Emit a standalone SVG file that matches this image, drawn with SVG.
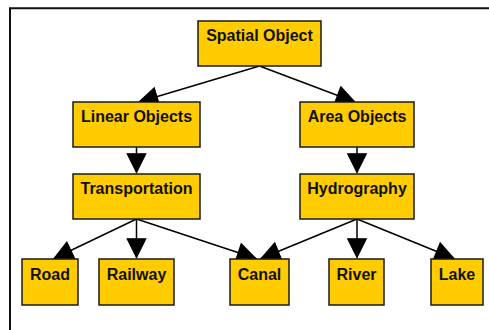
<svg xmlns="http://www.w3.org/2000/svg" width="489" height="330" viewBox="0 0 489 330">
  <style>
    .box { fill: #FFCC00; stroke: #1a1a1a; stroke-width: 1.5; }
    .lbl { font-family: "Liberation Sans", Arial, sans-serif; font-weight: bold; font-size: 16px; fill: #111; text-anchor: middle; }
    .edge { stroke: #000; stroke-width: 1.5; fill: none; marker-end: url(#arrow); }
    .frame { stroke: #111; stroke-width: 2; fill: none; }
  </style>
  <defs>
    <marker id="arrow" markerUnits="userSpaceOnUse" markerWidth="22" markerHeight="22" viewBox="-1 -1 20 20" refX="17" refY="9" orient="auto">
      <path d="M0,0.5 L17,9 L0,17.5 Z" fill="#000" stroke="#000" stroke-width="1"/>
    </marker>
  </defs>
  <rect width="489" height="330" fill="#fff"/>
  <!-- frame -->
  <path class="frame" d="M10,331 L10,8.3 L490,8.3"/>

  <!-- connectors -->
  <g id="edges">
    <line class="edge" x1="259.5" y1="66" x2="139" y2="102"/>
    <line class="edge" x1="259.5" y1="66" x2="355" y2="102"/>
    <line class="edge" x1="136.5" y1="147" x2="136.5" y2="172.5"/>
    <line class="edge" x1="357" y1="147" x2="357" y2="172.5"/>
    <line class="edge" x1="136.5" y1="219" x2="54" y2="258.5"/>
    <line class="edge" x1="136.5" y1="219" x2="136.5" y2="257.5"/>
    <line class="edge" x1="136.5" y1="219" x2="256" y2="258.5"/>
    <line class="edge" x1="357" y1="219" x2="261" y2="258.5"/>
    <line class="edge" x1="357" y1="219" x2="357" y2="257.5"/>
    <line class="edge" x1="357" y1="219" x2="454" y2="258.5"/>
  </g>

  <g id="spatial-object">
    <rect class="box" x="198" y="21" width="123" height="45"/>
    <text class="lbl" x="259.5" y="41">Spatial Object</text>
  </g>
  <g id="linear-objects">
    <rect class="box" x="73" y="102" width="127" height="45"/>
    <text class="lbl" x="136.5" y="122">Linear Objects</text>
  </g>
  <g id="area-objects">
    <rect class="box" x="300" y="102" width="114" height="45"/>
    <text class="lbl" x="357" y="122">Area Objects</text>
  </g>
  <g id="transportation">
    <rect class="box" x="73" y="174" width="127" height="45"/>
    <text class="lbl" x="136.5" y="194">Transportation</text>
  </g>
  <g id="hydrography">
    <rect class="box" x="300" y="174" width="114" height="45"/>
    <text class="lbl" x="357" y="194">Hydrography</text>
  </g>
  <g id="road">
    <rect class="box" x="22" y="259" width="56" height="46"/>
    <text class="lbl" x="50" y="279.5">Road</text>
  </g>
  <g id="railway">
    <rect class="box" x="99" y="259" width="75" height="46"/>
    <text class="lbl" x="136.5" y="279.5">Railway</text>
  </g>
  <g id="canal">
    <rect class="box" x="230" y="259" width="59" height="46"/>
    <text class="lbl" x="259.5" y="279.5">Canal</text>
  </g>
  <g id="river">
    <rect class="box" x="329" y="259" width="55" height="46"/>
    <text class="lbl" x="356.5" y="279.5">River</text>
  </g>
  <g id="lake">
    <rect class="box" x="431" y="259" width="52" height="46"/>
    <text class="lbl" x="457" y="279.5">Lake</text>
  </g>
</svg>
